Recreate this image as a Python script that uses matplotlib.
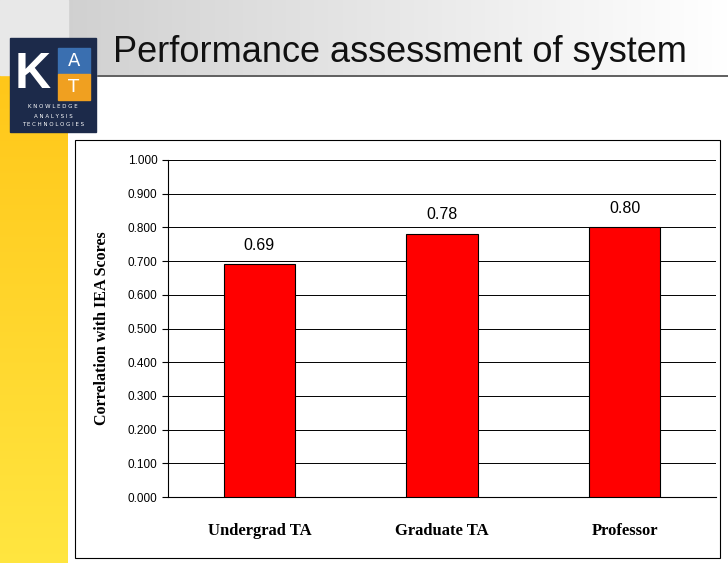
import matplotlib
matplotlib.use("Agg")
import matplotlib.pyplot as plt
import numpy as np
from matplotlib.patches import Rectangle

categories = ["Undergrad TA", "Graduate TA", "Professor"]
values = [0.69, 0.78, 0.80]
value_labels = ["0.69", "0.78", "0.80"]
yticks = [0.0, 0.1, 0.2, 0.3, 0.4, 0.5, 0.6, 0.7, 0.8, 0.9, 1.0]

W, H = 728, 563
fig = plt.figure(figsize=(W/100, H/100), dpi=100)
fig.patch.set_facecolor("white")

def px(x, y, w, h):
    return [x/W, 1-(y+h)/H, w/W, h/H]

bg = fig.add_axes([0, 0, 1, 1]); bg.axis("off")
grad = np.linspace(0.80, 1.0, 256)[None, :]
bg.imshow(np.dstack([grad]*3), extent=[0, W, 75, 0], aspect="auto")
yg = np.linspace(0, 1, 256)[:, None]
col = np.dstack([np.full_like(yg, 1.0), 0.78+0.12*yg, 0.1+0.15*yg])
bg.imshow(col, extent=[0, 68, H, 75], aspect="auto")
bg.add_patch(Rectangle((0, 0), 68, 75, color="#e8e8e8"))
bg.plot([98, W], [76, 76], color="#444444", lw=1.2)
bg.set_xlim(0, W); bg.set_ylim(H, 0)
bg.add_patch(Rectangle((10, 38), 86, 94, color="#1c2a4a"))
bg.text(33, 75, "K", color="white", fontsize=36, fontweight="bold", ha="center", va="center", family="Liberation Sans")
bg.add_patch(Rectangle((58, 48), 32, 26, color="#3a6fb0"))
bg.add_patch(Rectangle((58, 74), 32, 26, color="#f0a020"))
bg.text(74, 61, "A", color="white", fontsize=13, ha="center", va="center")
bg.text(74, 87, "T", color="white", fontsize=13, ha="center", va="center")
for i, t in enumerate(["K N O W L E D G E", "A N A L Y S I S", "T E C H N O L O G I E S"]):
    bg.text(53, 107+i*9, t, color="white", fontsize=4, ha="center", va="center")
bg.text(113, 52, "Performance assessment of system", fontsize=26, va="center",
        family="Liberation Sans", color="#111111")
bg.add_patch(Rectangle((75, 140), 645, 418, fill=False, ec="black", lw=0.8))

ax = fig.add_axes(px(168, 160, 548, 337))
x = np.arange(len(categories))
ax.bar(x, values, width=0.39, color="#ff0000", edgecolor="black", linewidth=0.8, zorder=3)
for xi, v, l in zip(x, values, value_labels):
    ax.text(xi, v + 0.035, l, ha="center", va="bottom", fontsize=11.5, family="Liberation Sans")
ax.set_xlim(-0.5, 2.5); ax.set_ylim(0, 1.0)
ax.set_yticks(yticks)
ax.set_yticklabels([f"{t:.3f}" for t in yticks], fontsize=8.5, family="Liberation Sans")
ax.yaxis.grid(True, color="black", lw=0.7, zorder=0)
ax.set_xticks(x)
ax.set_xticklabels(categories, fontsize=12, fontweight="bold", family="Liberation Serif")
ax.tick_params(axis="x", length=0, pad=19)
ax.tick_params(axis="y", length=4)
for s in ["top", "right"]:
    ax.spines[s].set_visible(False)
ax.set_ylabel("Correlation with IEA Scores", fontsize=11.5, fontweight="bold", family="Liberation Serif", labelpad=13)
fig.savefig("out.png", dpi=100)
